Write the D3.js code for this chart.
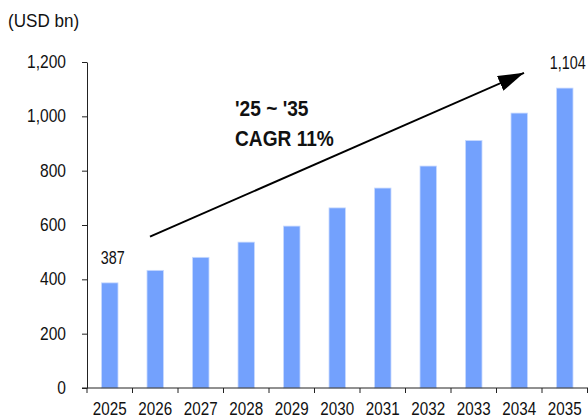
<!DOCTYPE html>
<html lang="en">
<head>
  <meta charset="UTF-8" />
  <title>Market size 2025-2035</title>
  <style>
  body {
    margin: 0;
    background: #fff;
  }
  svg text {
    font-family: 'Liberation Sans', Arial, sans-serif;
    fill: #111;
  }
  .bar {
    fill: #73a1fd;
    stroke: #c9dafe;
    stroke-width: 0.8;
  }
  .axis path, .axis line {
    stroke: #222;
  }
  </style>
</head>
<body>
  <div id="chart"></div>

  <script src="https://cdn.jsdelivr.net/npm/d3@7/dist/d3.min.js"></script>
<script>
  const years = ["2025", "2026", "2027", "2028", "2029", "2030", "2031", "2032", "2033", "2034", "2035"];
  const values = [387, 433, 481, 537, 596, 663, 736, 817, 911, 1012, 1104];
  const yTicks = [0, 200, 400, 600, 800, 1000, 1200];
  const unitLabel = "(USD bn)";
  const cagrLines = ["'25 ~ '35", "CAGR 11%"];

  const width = 588, height = 419;
  const margin = {top: 62, right: 0.5, bottom: 31, left: 87};

  const svg = d3.select("#chart").append("svg")
    .attr("width", width)
    .attr("height", height);

  const x = d3.scaleBand()
    .domain(years)
    .range([margin.left, width - margin.right])
    .paddingInner(0.637)
    .paddingOuter(0.3185);

  const y = d3.scaleLinear()
    .domain([0, 1200])
    .range([height - margin.bottom, margin.top]);

  // the original font is a narrow one, so squeeze the text horizontally
  const squeeze = (px, py, sx) => `translate(${px},${py}) scale(${sx},1)`;

  // bars
  svg.selectAll(".bar")
    .data(values)
    .join("rect")
    .attr("class", "bar")
    .attr("x", (d, i) => x(years[i]))
    .attr("width", x.bandwidth())
    .attr("y", d => y(d))
    .attr("height", d => y(0) - y(d));

  // y axis
  const yAxis = svg.append("g")
    .attr("class", "axis")
    .attr("transform", `translate(${margin.left},0)`)
    .call(d3.axisLeft(y).tickValues(yTicks).tickFormat(d3.format(",")).tickSize(5).tickPadding(16).tickSizeOuter(0));
  yAxis.selectAll("text")
    .style("font-size", "17.5px")
    .attr("x", null)
    .attr("transform", squeeze(-21, 0, 0.89));

  // x axis: labels under bars, ticks at band edges
  const step = x.step();
  const edges = d3.range(years.length + 1).map(i => margin.left + i * step);
  const xAxis = svg.append("g")
    .attr("class", "axis")
    .attr("transform", `translate(0,${y(0)})`);
  xAxis.append("line")
    .attr("x1", margin.left - 5).attr("x2", width)
    .attr("y1", 0).attr("y2", 0);
  xAxis.selectAll(".edge")
    .data(edges)
    .join("line")
    .attr("class", "edge")
    .attr("x1", d => d).attr("x2", d => d)
    .attr("y1", 0).attr("y2", 5);
  xAxis.selectAll(".lbl")
    .data(years)
    .join("text")
    .attr("class", "lbl")
    .attr("transform", d => squeeze(x(d) + x.bandwidth() / 2, 27, 0.8))
    .attr("text-anchor", "middle")
    .style("font-size", "19px")
    .text(d => d);

  // unit label
  svg.append("text")
    .attr("transform", squeeze(8, 27, 0.95))
    .style("font-size", "18px")
    .text(unitLabel);

  // first / last value labels
  const ends = [0, values.length - 1];
  svg.selectAll(".val")
    .data(ends)
    .join("text")
    .attr("class", "val")
    .attr("transform", i => squeeze(x(years[i]) + x.bandwidth() / 2 + 3, y(values[i]) - 19, 0.82))
    .attr("text-anchor", "middle")
    .style("font-size", "17.5px")
    .text(i => d3.format(",")(values[i]));

  // CAGR arrow
  svg.append("defs").append("marker")
    .attr("id", "head")
    .attr("viewBox", "0 0 26 16")
    .attr("refX", 26).attr("refY", 8)
    .attr("markerWidth", 26).attr("markerHeight", 16)
    .attr("markerUnits", "userSpaceOnUse")
    .attr("orient", "auto")
    .append("path")
    .attr("d", "M0,0 L26,8 L0,16 Z")
    .attr("fill", "#000");

  svg.append("line")
    .attr("x1", x("2026") + 3).attr("y1", y(557))
    .attr("x2", x("2034") + 13).attr("y2", y(1160))
    .attr("stroke", "#000")
    .attr("stroke-width", 2)
    .attr("marker-end", "url(#head)");

  svg.selectAll(".cagr")
    .data(cagrLines)
    .join("text")
    .attr("class", "cagr")
    .attr("transform", (d, i) => squeeze(235, 116 + i * 30, 0.87))
    .style("font-size", "22px")
    .style("font-weight", "bold")
    .text(d => d);
</script>
</body>
</html>
